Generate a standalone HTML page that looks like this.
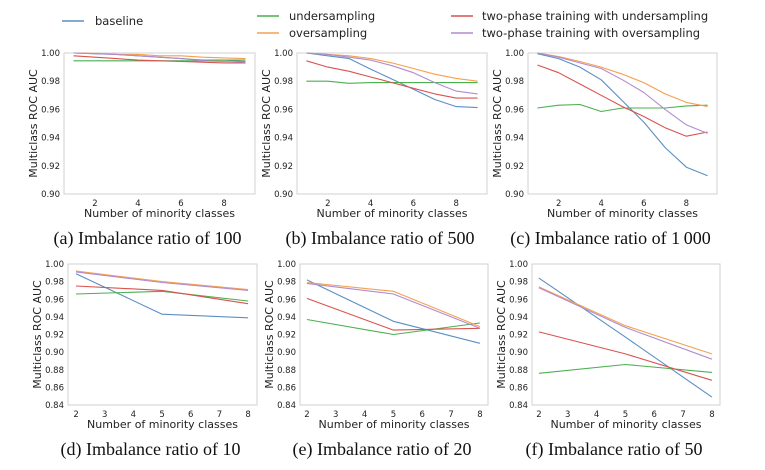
<!DOCTYPE html>
<html><head><meta charset="utf-8"><style>
html,body{margin:0;padding:0;background:#fff;}
svg{display:block;}
</style></head><body>
<svg id="fig" width="765" height="470" viewBox="0 0 765 470" xmlns="http://www.w3.org/2000/svg">
<g font-family="DejaVu Sans, Liberation Sans, sans-serif" font-size="11.5" fill="#222">
  <g><line x1="62" y1="21" x2="84" y2="21" stroke="#5b8fc4" stroke-width="1.5"/><text x="95" y="25">baseline</text></g>
  <g><line x1="257" y1="16" x2="279" y2="16" stroke="#4caf50" stroke-width="1.5"/><text x="289" y="20">undersampling</text></g>
  <g><line x1="257" y1="33" x2="279" y2="33" stroke="#f5a050" stroke-width="1.5"/><text x="289" y="37">oversampling</text></g>
  <g><line x1="451" y1="16" x2="473" y2="16" stroke="#d9534f" stroke-width="1.5"/><text x="482" y="20">two-phase training with undersampling</text></g>
  <g><line x1="451" y1="33" x2="473" y2="33" stroke="#b08cd0" stroke-width="1.5"/><text x="482" y="37">two-phase training with oversampling</text></g>
</g>
</svg>
<script>
const seriesNames = ["baseline","undersampling","oversampling","two-phase-under","two-phase-over"];
const seriesColors = ["#5b8fc4","#4caf50","#f5a050","#d9534f","#b08cd0"];
const topX = [1,2,3,4,5,6,7,8,9];
const bottomX = [2,5,8];
const topTicksX = [2,4,6,8];
const bottomTicksX = [2,3,4,5,6,7,8];
const topTicksY = [0.90,0.92,0.94,0.96,0.98,1.00];
const bottomTicksY = [0.84,0.86,0.88,0.90,0.92,0.94,0.96,0.98,1.00];
// panel a (ratio 100)
const aBaseline = [1.000,0.9995,0.999,0.998,0.997,0.996,0.995,0.995,0.994];
const aUnder = [0.9945,0.9945,0.9945,0.9945,0.9945,0.9945,0.9945,0.995,0.995];
const aOver = [1.000,0.9998,0.999,0.999,0.998,0.998,0.997,0.9965,0.996];
const aTwoUnder = [0.998,0.997,0.996,0.995,0.9945,0.994,0.9935,0.993,0.993];
const aTwoOver = [1.000,0.9995,0.999,0.998,0.997,0.996,0.9945,0.994,0.9935];
// panel b (ratio 500)
const bBaseline = [1.000,0.998,0.996,0.9886,0.9815,0.9743,0.967,0.962,0.9613];
const bUnder = [0.980,0.980,0.9785,0.979,0.979,0.979,0.979,0.979,0.979];
const bOver = [1.000,0.999,0.998,0.996,0.993,0.989,0.985,0.982,0.980];
const bTwoUnder = [0.9945,0.990,0.987,0.983,0.979,0.975,0.971,0.968,0.968];
const bTwoOver = [1.000,0.999,0.997,0.995,0.991,0.986,0.979,0.973,0.971];
// panel c (ratio 1000)
const cBaseline = [0.9995,0.996,0.990,0.981,0.966,0.951,0.933,0.919,0.913];
const cUnder = [0.961,0.963,0.9635,0.9585,0.961,0.961,0.961,0.9625,0.963];
const cOver = [1.000,0.9975,0.994,0.990,0.985,0.979,0.971,0.965,0.962];
const cTwoUnder = [0.9915,0.986,0.978,0.970,0.962,0.955,0.947,0.941,0.944];
const cTwoOver = [1.000,0.997,0.993,0.989,0.981,0.972,0.960,0.949,0.943];
// panel d (ratio 10)
const dBaseline = [0.989,0.943,0.939];
const dUnder = [0.966,0.969,0.958];
const dOver = [0.992,0.980,0.971];
const dTwoUnder = [0.975,0.970,0.955];
const dTwoOver = [0.991,0.979,0.970];
// panel e (ratio 20)
const eBaseline = [0.982,0.935,0.910];
const eUnder = [0.937,0.920,0.933];
const eOver = [0.979,0.969,0.929];
const eTwoUnder = [0.961,0.925,0.927];
const eTwoOver = [0.978,0.966,0.927];
// panel f (ratio 50)
const fBaseline = [0.984,0.917,0.849];
const fUnder = [0.876,0.886,0.877];
const fOver = [0.974,0.930,0.898];
const fTwoUnder = [0.923,0.898,0.868];
const fTwoOver = [0.973,0.928,0.892];
const captions = ["(a) Imbalance ratio of 100","(b) Imbalance ratio of 500","(c) Imbalance ratio of 1\u2009000","(d) Imbalance ratio of 10","(e) Imbalance ratio of 20","(f) Imbalance ratio of 50"];

const NS = "http://www.w3.org/2000/svg";
const svg = document.getElementById("fig");
function mk(tag, attrs, parent){const e=document.createElementNS(NS,tag);for(const k in attrs)e.setAttribute(k,attrs[k]);(parent||svg).appendChild(e);return e;}

const panels = [
 {id:"a",L:64,R:255,T:53,B:194,xmin:0.56,xmax:9.44,ymin:0.90,ymax:1.00,xs:topX,xt:topTicksX,yt:topTicksY,series:[aBaseline,aUnder,aOver,aTwoUnder,aTwoOver],cap:captions[0]},
 {id:"b",L:297,R:487,T:53,B:194,xmin:0.56,xmax:9.44,ymin:0.90,ymax:1.00,xs:topX,xt:topTicksX,yt:topTicksY,series:[bBaseline,bUnder,bOver,bTwoUnder,bTwoOver],cap:captions[1]},
 {id:"c",L:528,R:717,T:53,B:194,xmin:0.56,xmax:9.44,ymin:0.90,ymax:1.00,xs:topX,xt:topTicksX,yt:topTicksY,series:[cBaseline,cUnder,cOver,cTwoUnder,cTwoOver],cap:captions[2]},
 {id:"d",L:68,R:257,T:264,B:405,xmin:1.72,xmax:8.31,ymin:0.84,ymax:1.00,xs:bottomX,xt:bottomTicksX,yt:bottomTicksY,series:[dBaseline,dUnder,dOver,dTwoUnder,dTwoOver],cap:captions[3]},
 {id:"e",L:300,R:488,T:264,B:405,xmin:1.76,xmax:8.28,ymin:0.84,ymax:1.00,xs:bottomX,xt:bottomTicksX,yt:bottomTicksY,series:[eBaseline,eUnder,eOver,eTwoUnder,eTwoOver],cap:captions[4]},
 {id:"f",L:532,R:720,T:264,B:405,xmin:1.76,xmax:8.28,ymin:0.84,ymax:1.00,xs:bottomX,xt:bottomTicksX,yt:bottomTicksY,series:[fBaseline,fUnder,fOver,fTwoUnder,fTwoOver],cap:captions[5]}
];

panels.forEach(p=>{
  const g = mk("g",{});
  
  
  const sx = v => p.L + (v-p.xmin)/(p.xmax-p.xmin)*(p.R-p.L);
  const sy = v => p.B - (v-p.ymin)/(p.ymax-p.ymin)*(p.B-p.T);
  const fr = mk("rect",{x:p.L,y:p.T,width:p.R-p.L,height:p.B-p.T,fill:"none",stroke:"#d0d0d0","stroke-width":1},g);
  
  
  p.yt.forEach(t=>{
    const tx = mk("text",{x:p.L-4,y:sy(t)+3,"text-anchor":"end","font-family":"DejaVu Sans, Liberation Sans, sans-serif","font-size":"8.5",fill:"#222"},g);
    tx.textContent = t.toFixed(2);
    
    
  });
  p.xt.forEach(t=>{
    const tx = mk("text",{x:sx(t),y:p.B+12,"text-anchor":"middle","font-family":"DejaVu Sans, Liberation Sans, sans-serif","font-size":"8.5",fill:"#222"},g);
    tx.textContent = String(t);
    
    
  });
  p.series.forEach((vals,i)=>{
    const pts = vals.map((v,j)=>sx(p.xs[j]).toFixed(1)+","+sy(v).toFixed(1)).join(" ");
    const pl = mk("polyline",{points:pts,fill:"none",stroke:seriesColors[i],"stroke-width":1.1,"stroke-linejoin":"round"},g);
    
    
  });
  const cx = (p.L+p.R)/2, cy=(p.T+p.B)/2;
  const yl = mk("text",{x:0,y:0,transform:`translate(${p.L-27},${cy}) rotate(-90)`,"text-anchor":"middle","font-family":"DejaVu Sans, Liberation Sans, sans-serif","font-size":"11",fill:"#222"},g);
  yl.textContent = "Multiclass ROC AUC";
  
  
  const xl = mk("text",{x:cx,y:p.B+23,"text-anchor":"middle","font-family":"DejaVu Sans, Liberation Sans, sans-serif","font-size":"11",fill:"#222"},g);
  xl.textContent = "Number of minority classes";
  
  
  const cp = mk("text",{x:cx-12,y:p.B+50,"text-anchor":"middle","font-family":"Liberation Serif, serif","font-size":"18",fill:"#111"},g);
  cp.textContent = p.cap;
  
  
});
</script>
</body></html>
